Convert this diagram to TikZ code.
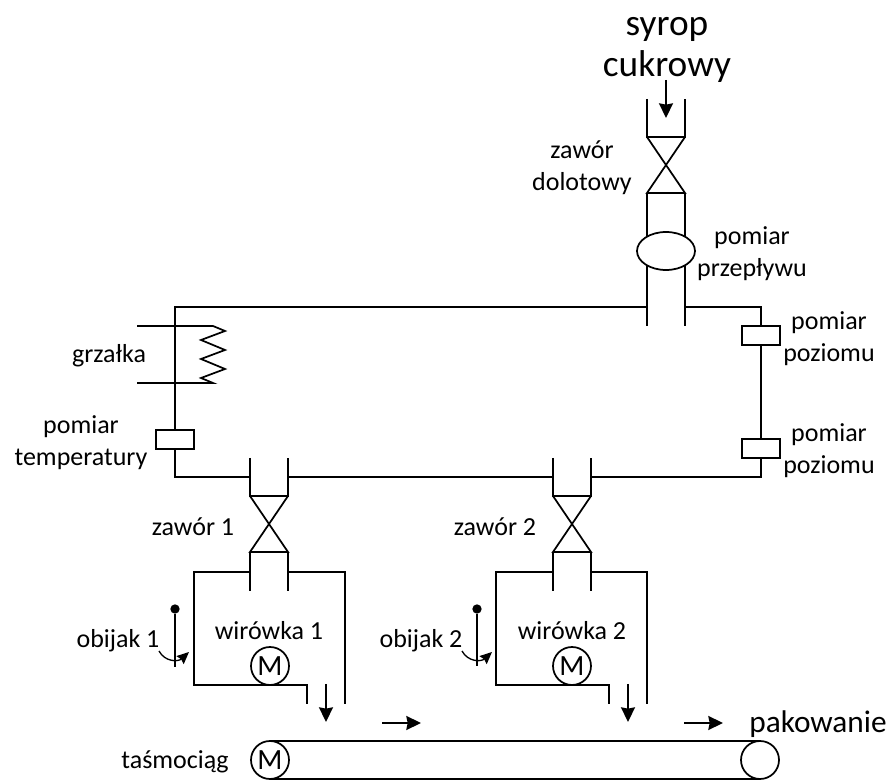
\documentclass[tikz,border=0pt]{standalone}
\usepackage{fontspec}
\setmainfont{Carlito}
\usetikzlibrary{arrows.meta,shapes.geometric}
\tikzset{
  pipeline/.style={line width=1.3pt,line cap=butt},
  flowarrow/.style={line width=1.3pt,-{Stealth[length=11pt,width=10.5pt,inset=1pt]}},
  swingarrow/.style={line width=1pt,-{Stealth[length=9pt,width=8pt,inset=1pt]}},
  sensorbox/.style={draw,line width=1.3pt,fill=white,rectangle,outer sep=0pt,minimum width=28.5pt,minimum height=14.25pt,inner sep=0pt},
  roller/.style={draw,line width=1.3pt,circle,outer sep=0pt,minimum size=28.5pt,inner sep=0pt,font=\fontsize{22}{24}\selectfont},
  meter/.style={draw,line width=1.3pt,fill=white,ellipse,outer sep=0pt,minimum width=43.5pt,minimum height=28.5pt,inner sep=0pt},
  knob/.style={fill=black,circle,outer sep=0pt,minimum size=7pt,inner sep=0pt},
  lbl/.style={inner sep=0.75pt,align=center,font=\fontsize{19.5}{24}\selectfont},
  biglbl/.style={inner sep=0.75pt,align=center,font=\fontsize{28}{31}\selectfont},
  midlbl/.style={inner sep=0.75pt,align=center,font=\fontsize{23.5}{28}\selectfont}
}
\begin{document}
\begin{tikzpicture}[x=0.75pt,y=0.75pt,yscale=-1,xscale=1]
\useasboundingbox (0,0) rectangle (890,780);
% corners of the tank lines
\coordinate (tankTL) at (175,307);
\coordinate (tankTR) at (761,307);
\coordinate (tankBL) at (175,477);
\coordinate (tankBR) at (761,477);
% inlet
\coordinate (inA) at (647,99);
\coordinate (inB) at (685,99);
\coordinate (inC) at (647,137);
\coordinate (inD) at (685,137);
\coordinate (inE) at (647,193);
\coordinate (inF) at (685,193);
\coordinate (inG) at (647,326);
\coordinate (inH) at (685,326);
\coordinate (inJ) at (647,307);
\coordinate (inK) at (685,307);
\draw [pipeline] (inA) -- (inC) -- (inD) -- (inB) ;
\draw [pipeline] (inC) -- (inF) -- (inE) -- (inD) ;
\draw [pipeline] (inE) -- (inG) ;
\draw [pipeline] (inF) -- (inH) ;
\node [meter] (flow) at (666,251) {};
\coordinate (inArrowA) at (666,80);
\coordinate (inArrowB) at (666,118);
\draw [flowarrow] (inArrowA) -- (inArrowB) ;
% heater
\coordinate (heatA) at (137,326);
\coordinate (heatB) at (213,326);
\coordinate (heatC) at (137,383);
\coordinate (heatD) at (213,383);
\draw [pipeline] (heatA) -- (heatB) -- (225,331) -- (201,340) -- (225,350) -- (201,359) -- (225,369) -- (201,378) -- (heatD) -- (heatC) ;
% sensors
\node [sensorbox] (tempBox) at (175,439.5) {};
\node [sensorbox] (levelA) at (761,335.5) {};
\node [sensorbox] (levelB) at (761,448.5) {};
% valve 1
\coordinate (vaA) at (250,458);
\coordinate (vaB) at (288,458);
\coordinate (vaC) at (250,496);
\coordinate (vaD) at (288,496);
\coordinate (vaE) at (250,552);
\coordinate (vaF) at (288,552);
\coordinate (vaG) at (250,591);
\coordinate (vaH) at (288,591);
\coordinate (vaJ) at (250,477);
\coordinate (vaK) at (288,477);
\draw [pipeline] (vaA) -- (vaC) -- (vaD) -- (vaB) ;
\draw [pipeline] (vaC) -- (vaF) -- (vaE) -- (vaD) ;
\draw [pipeline] (vaE) -- (vaG) ;
\draw [pipeline] (vaF) -- (vaH) ;
% valve 2
\coordinate (vbA) at (553,458);
\coordinate (vbB) at (591,458);
\coordinate (vbC) at (553,496);
\coordinate (vbD) at (591,496);
\coordinate (vbE) at (553,552);
\coordinate (vbF) at (591,552);
\coordinate (vbG) at (553,591);
\coordinate (vbH) at (591,591);
\coordinate (vbJ) at (553,477);
\coordinate (vbK) at (591,477);
\draw [pipeline] (vbA) -- (vbC) -- (vbD) -- (vbB) ;
\draw [pipeline] (vbC) -- (vbF) -- (vbE) -- (vbD) ;
\draw [pipeline] (vbE) -- (vbG) ;
\draw [pipeline] (vbF) -- (vbH) ;
% tank lines
\draw [pipeline] (inJ) -- (tankTL) -- (tempBox.north) ;
\draw [pipeline] (tempBox.south) -- (tankBL) -- (vaJ) ;
\draw [pipeline] (inK) -- (tankTR) -- (levelA.north) ;
\draw [pipeline] (levelA.south) -- (levelB.north) ;
\draw [pipeline] (levelB.south) -- (tankBR) -- (vbK) ;
\draw [pipeline] (vaK) -- (vbJ) ;
% centrifuge 1
\node [roller] (motorA) at (270,666) {M};
\coordinate (cfaA) at (250,572);
\coordinate (cfaB) at (194,572);
\coordinate (cfaC) at (194,685);
\coordinate (cfaD) at (307,685);
\coordinate (cfaE) at (307,704);
\coordinate (cfaF) at (288,572);
\coordinate (cfaG) at (345,572);
\coordinate (cfaH) at (345,704);
\draw [pipeline] (cfaA) -- (cfaB) -- (cfaC) -- (cfaD) -- (cfaE) ;
\draw [pipeline] (cfaF) -- (cfaG) -- (cfaH) ;
\coordinate (outaA) at (326,684);
\coordinate (outaB) at (326,722);
\draw [flowarrow] (outaA) -- (outaB) ;
\node [knob] (knobA) at (175,609) {};
\coordinate (knobAend) at (175,667);
\draw [pipeline] (knobA) -- (knobAend) ;
\coordinate (swingaA) at (159,651);
\coordinate (swingaB) at (189,652);
\draw [swingarrow] (swingaA) .. controls (165,662) and (178,662) .. (swingaB) ;
% centrifuge 2
\node [roller] (motorB) at (572,666) {M};
\coordinate (cfbA) at (553,572);
\coordinate (cfbB) at (496,572);
\coordinate (cfbC) at (496,685);
\coordinate (cfbD) at (609,685);
\coordinate (cfbE) at (609,704);
\coordinate (cfbF) at (591,572);
\coordinate (cfbG) at (647,572);
\coordinate (cfbH) at (647,704);
\draw [pipeline] (cfbA) -- (cfbB) -- (cfbC) -- (cfbD) -- (cfbE) ;
\draw [pipeline] (cfbF) -- (cfbG) -- (cfbH) ;
\coordinate (outbA) at (628,684);
\coordinate (outbB) at (628,722);
\draw [flowarrow] (outbA) -- (outbB) ;
\node [knob] (knobB) at (477,609) {};
\coordinate (knobBend) at (477,666);
\draw [pipeline] (knobB) -- (knobBend) ;
\coordinate (swingbA) at (462,651);
\coordinate (swingbB) at (492,652);
\draw [swingarrow] (swingbA) .. controls (468,662) and (481,662) .. (swingbB) ;
% belt
\node [roller] (motorBelt) at (270,760) {M};
\node [roller] (endRoller) at (760,760) {};
\draw [pipeline] (motorBelt.north) -- (endRoller.north) ;
\draw [pipeline] (motorBelt.south) -- (endRoller.south) ;
\coordinate (beltaA) at (382,723);
\coordinate (beltaB) at (421,723);
\coordinate (beltbA) at (684,723);
\coordinate (beltbB) at (723,723);
\draw [flowarrow] (beltaA) -- (beltaB) ;
\draw [flowarrow] (beltbA) -- (beltbB) ;
% labels
\node [biglbl] (syrop) at (667,50) {syrop\\cukrowy};
\node [lbl] (zaworIn) at (582,168) {zawór\\dolotowy};
\node [lbl] (flowTxt) at (752,254) {pomiar\\przepływu};
\node [lbl] (levelTxtA) at (829,339) {pomiar\\poziomu};
\node [lbl] (levelTxtB) at (829,451) {pomiar\\poziomu};
\node [lbl] (heatTxt) at (109,356) {grzałka};
\node [lbl] (tempTxt) at (81,443) {pomiar\\temperatury};
\node [lbl] (zaworA) at (193,527) {zawór 1};
\node [lbl] (zaworB) at (495,527) {zawór 2};
\node [lbl] (cfaTxt) at (269,631) {wirówka 1};
\node [lbl] (cfbTxt) at (572,631) {wirówka 2};
\node [lbl] (obijakA) at (118,641) {obijak 1};
\node [lbl] (obijakB) at (421,641) {obijak 2};
\node [lbl] (beltTxt) at (175,762) {taśmociąg};
\node [midlbl] (pack) at (818,724) {pakowanie};
\end{tikzpicture}
\end{document}
